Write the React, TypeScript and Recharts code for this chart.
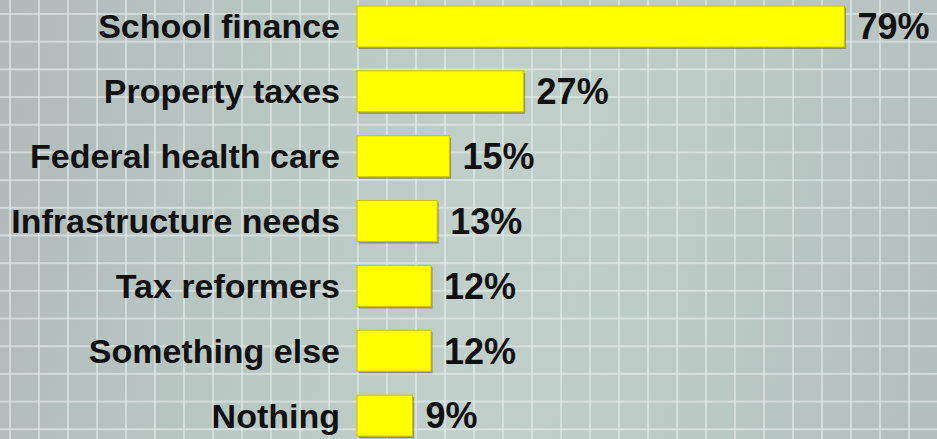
import { BarChart, Bar, XAxis, YAxis, LabelList } from 'recharts'

const categories = [
    'School finance',
    'Property taxes',
    'Federal health care',
    'Infrastructure needs',
    'Tax reformers',
    'Something else',
    'Nothing',
]
const shares = [79, 27, 15, 13, 12, 12, 9]

const data = categories.map((name, i) => ({ name, value: shares[i] }))

const FONT = '"Liberation Sans", Arial, sans-serif'

function YellowBar(props: any) {
    const { x, y, width, height } = props
    if (!width || width <= 0) return null
    return (
        <g>
            <rect x={x + 1.5} y={y + 2} width={width} height={height} fill="rgba(70,60,0,0.4)" />
            <rect
                x={x}
                y={y}
                width={width}
                height={height}
                fill="#ffff00"
                stroke="#d2bd00"
                strokeWidth={1}
            />
        </g>
    )
}

const gridColor = 'rgba(226,234,232,0.65)'

export default function App() {
    return (
        <div
            style={{
                position: 'fixed',
                left: 0,
                top: 0,
                width: 937,
                height: 439,
                overflow: 'hidden',
                backgroundColor: '#bac7c4',
                backgroundImage: [
                    `linear-gradient(to right, ${gridColor} 1.5px, transparent 1.5px)`,
                    `linear-gradient(to bottom, ${gridColor} 1.5px, transparent 1.5px)`,
                    'linear-gradient(100deg, #b0bab9 0%, #b8c6c2 25%, #c0cfca 50%, #bdccc7 70%, #b2bebc 100%)',
                ].join(', '),
                backgroundSize: '29px 100%, 100% 27.7px, 100% 100%',
                backgroundPosition: '9px 0, 0 13px, 0 0',
            }}
        >
            <div style={{ position: 'absolute', left: 0, top: -6 }}>
                <BarChart
                    width={937}
                    height={454}
                    data={data}
                    layout="vertical"
                    margin={{ top: 0, right: 0, left: 0, bottom: 0 }}
                    barSize={41}
                >
                    <XAxis type="number" domain={[0, 94]} hide />
                    <YAxis
                        type="category"
                        dataKey="name"
                        width={357}
                        axisLine={false}
                        tickLine={false}
                        tickSize={0}
                        tickMargin={17}
                        interval={0}
                        tick={{ fill: '#111111', fontSize: 34, fontWeight: 700, fontFamily: FONT }}
                    />
                    <Bar dataKey="value" shape={<YellowBar />} isAnimationActive={false}>
                        <LabelList
                            dataKey="value"
                            position="right"
                            offset={13}
                            formatter={(v: any) => `${v}%`}
                            style={{ fill: '#111111', fontSize: 36, fontWeight: 700, fontFamily: FONT }}
                        />
                    </Bar>
                </BarChart>
            </div>
        </div>
    )
}
